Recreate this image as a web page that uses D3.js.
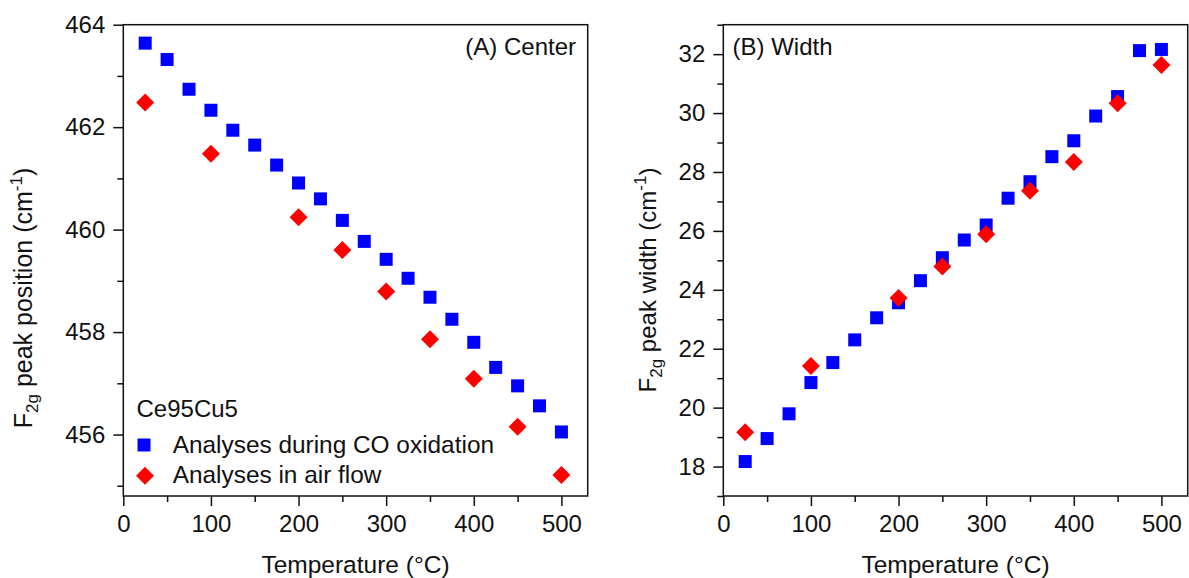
<!DOCTYPE html>
<html>
<head>
<meta charset="utf-8">
<script src="https://cdn.jsdelivr.net/npm/d3@7"></script>
<style>
  html, body { margin: 0; padding: 0; background: #fff; }
  svg { display: block; font-family: "Liberation Sans", Arial, Helvetica, sans-serif; }
</style>
</head>
<body>
<svg id="chart" width="1189" height="578"></svg>
<script>
// Temperatures (°C) of the two measurement series
const tempsCO = [25, 50, 75, 100, 125, 150, 175, 200, 225, 250, 275, 300, 325, 350, 375, 400, 425, 450, 475, 500];
const tempsAir = [25, 100, 200, 250, 300, 350, 400, 450, 500];

// F2g peak position (cm-1)
const centerCO = [463.64, 463.32, 462.74, 462.33, 461.94, 461.65, 461.26, 460.91, 460.60, 460.18,
                  459.77, 459.42, 459.05, 458.68, 458.25, 457.80, 457.31, 456.95, 456.56, 456.05];
const centerAir = [462.48, 461.48, 460.24, 459.60, 458.79, 457.86, 457.09, 456.15, 455.21];

// F2g peak width (cm-1)
const widthCO = [18.17, 18.95, 19.79, 20.85, 21.53, 22.30, 23.05, 23.56, 24.31, 25.09,
                 25.69, 26.20, 27.11, 27.67, 28.52, 29.06, 29.90, 30.56, 32.12, 32.16];
const widthAir = [19.16, 21.41, 23.72, 24.79, 25.89, 27.36, 28.34, 30.33, 31.63];

// Axis ticks
const tempTicks = [0, 100, 200, 300, 400, 500];
const tempMinor = [50, 150, 250, 350, 450];
const centerTicks = [456, 458, 460, 462, 464];
const centerMinor = [455, 457, 459, 461, 463];
const widthTicks = [18, 20, 22, 24, 26, 28, 30, 32];
const widthMinor = [17, 19, 21, 23, 25, 27, 29, 31, 33];

const seriesNames = ["Analyses during CO oxidation", "Analyses in air flow"];
const sampleName = "Ce95Cu5";

const BLUE = "#0000ff", RED = "#ff0000", INK = "#111";
const FONT = 24;

const svg = d3.select("#chart");
svg.append("rect").attr("width", 1189).attr("height", 578).attr("fill", "#fff");

const plotTop = 24.7, plotBottom = 496;

function panel(opts) {
  const g = svg.append("g");
  const x = d3.scaleLinear().domain([0, 530]).range([opts.left, opts.right]);
  const y = d3.scaleLinear().domain(opts.yDomain).range([plotBottom, plotTop]);

  const styleAxis = sel => {
    sel.select(".domain").remove();
    sel.selectAll("line").attr("stroke", INK).attr("stroke-width", 1.5);
    sel.selectAll("text").attr("fill", INK).attr("font-size", FONT)
      .attr("font-family", "Liberation Sans, Arial, sans-serif");
  };

  // x axis: major + minor ticks
  g.append("g").attr("transform", `translate(0,${plotBottom})`)
    .call(d3.axisBottom(x).tickValues(tempTicks).tickSize(10).tickPadding(9).tickFormat(d3.format("d")))
    .call(styleAxis);
  g.append("g").attr("transform", `translate(0,${plotBottom})`)
    .call(d3.axisBottom(x).tickValues(tempMinor).tickSize(6).tickFormat(""))
    .call(styleAxis);

  // y axis: major + minor ticks
  g.append("g").attr("transform", `translate(${opts.left},0)`)
    .call(d3.axisLeft(y).tickValues(opts.yTicks).tickSize(10).tickPadding(8).tickFormat(d3.format("d")))
    .call(styleAxis);
  g.append("g").attr("transform", `translate(${opts.left},0)`)
    .call(d3.axisLeft(y).tickValues(opts.yMinor).tickSize(6).tickFormat(""))
    .call(styleAxis);

  // plot frame
  g.append("rect")
    .attr("x", opts.left).attr("y", plotTop)
    .attr("width", opts.right - opts.left).attr("height", plotBottom - plotTop)
    .attr("fill", "none").attr("stroke", INK).attr("stroke-width", 1.5);

  // markers: CO oxidation squares, air flow diamonds on top
  const square = d3.symbol(d3.symbolSquare, 169);
  const diamond = d3.symbol(d3.symbolSquare, 162);
  g.append("g").selectAll("path").data(opts.co).join("path")
    .attr("d", square)
    .attr("transform", d => `translate(${x(d[0])},${y(d[1])})`)
    .attr("fill", BLUE);
  g.append("g").selectAll("path").data(opts.air).join("path")
    .attr("d", diamond)
    .attr("transform", d => `translate(${x(d[0])},${y(d[1])}) rotate(45)`)
    .attr("fill", RED);

  // x axis title
  g.append("text")
    .attr("x", (opts.left + opts.right) / 2).attr("y", 573)
    .attr("text-anchor", "middle").attr("font-size", 24.5).attr("fill", INK)
    .text("Temperature (°C)");

  // y axis title with subscript and superscript
  const yt = g.append("text")
    .attr("transform", `translate(${opts.titleX},${opts.titleY}) rotate(-90)`)
    .attr("text-anchor", "middle").attr("font-size", opts.titleSize).attr("fill", INK);
  yt.append("tspan").text("F");
  yt.append("tspan").attr("font-size", 17).attr("dy", 6).text("2g");
  yt.append("tspan").attr("dy", -6).text(" " + opts.yLabel + " (cm");
  yt.append("tspan").attr("font-size", 17).attr("dy", -10).text("-1");
  yt.append("tspan").attr("dy", 10).text(")");

  // panel label
  g.append("text")
    .attr("x", opts.tagX).attr("y", 55)
    .attr("text-anchor", opts.tagAnchor).attr("font-size", FONT).attr("fill", INK)
    .text(opts.tag);

  return { g, x, y, square, diamond };
}

const A = panel({
  left: 123.3, right: 587.7,
  yDomain: [454.8, 464], yTicks: centerTicks, yMinor: centerMinor,
  co: tempsCO.map((t, i) => [t, centerCO[i]]),
  air: tempsAir.map((t, i) => [t, centerAir[i]]),
  yLabel: "peak position", titleX: 32, titleY: 298, titleSize: 25,
  tag: "(A) Center", tagX: 576, tagAnchor: "end"
});

panel({
  left: 723.3, right: 1187.7,
  yDomain: [17, 33], yTicks: widthTicks, yMinor: widthMinor,
  co: tempsCO.map((t, i) => [t, widthCO[i]]),
  air: tempsAir.map((t, i) => [t, widthAir[i]]),
  yLabel: "peak width", titleX: 656, titleY: 280, titleSize: 24,
  tag: "(B) Width", tagX: 732.5, tagAnchor: "start"
});

// legend inside panel A
const leg = A.g.append("g");
leg.append("text").attr("x", 136.5).attr("y", 417.3)
  .attr("font-size", FONT).attr("fill", INK).text(sampleName);
leg.append("path").attr("d", A.square).attr("transform", "translate(144,445)").attr("fill", BLUE);
leg.append("path").attr("d", A.diamond).attr("transform", "translate(145,475.7) rotate(45)").attr("fill", RED);
leg.append("text").attr("x", 172.7).attr("y", 453.3)
  .attr("font-size", 24.4).attr("fill", INK).text(seriesNames[0]);
leg.append("text").attr("x", 172.7).attr("y", 482.7)
  .attr("font-size", 24.4).attr("fill", INK).text(seriesNames[1]);
</script>
</body>
</html>
